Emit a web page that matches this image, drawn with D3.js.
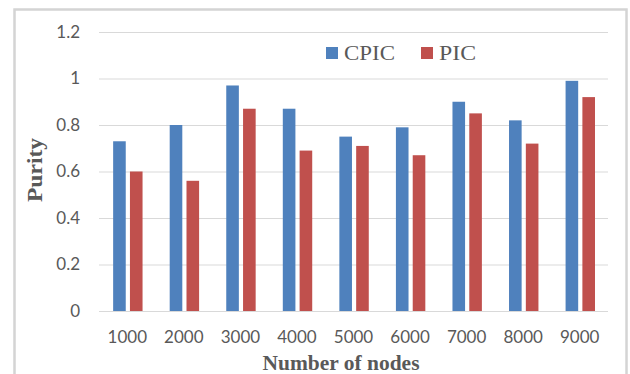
<!DOCTYPE html>
<html>
<head>
<meta charset="utf-8">
<script src="https://cdn.jsdelivr.net/npm/d3@7"></script>
<style>
  body { margin: 0; background: #fff; }
  svg { display: block; }
</style>
</head>
<body>
<div class="chart"></div>
<script>
// data
const nodes = ["1000", "2000", "3000", "4000", "5000", "6000", "7000", "8000", "9000"];
const seriesNames = ["CPIC", "PIC"];
const cpic = [0.73, 0.80, 0.97, 0.87, 0.75, 0.79, 0.90, 0.82, 0.99];
const pic  = [0.60, 0.56, 0.87, 0.69, 0.71, 0.67, 0.85, 0.72, 0.92];
const yTicks = [0, 0.2, 0.4, 0.6, 0.8, 1, 1.2];

const W = 630, H = 374;
const plot = { left: 99, right: 608, top: 32, bottom: 311 };
const color = d3.scaleOrdinal().domain(seriesNames).range(["#4F81BD", "#C0504D"]);

const svg = d3.select(".chart").append("svg")
    .attr("width", W)
    .attr("height", H);

// outer frame
svg.append("rect")
    .attr("x", 14.5).attr("y", 9.5)
    .attr("width", 612).attr("height", 380)
    .attr("fill", "none")
    .attr("stroke", "#D4D4D4")
    .attr("stroke-width", 2.5);

const x0 = d3.scaleBand().domain(nodes).range([plot.left, plot.right]);
const x1 = d3.scaleBand().domain(seriesNames)
    .range([x0.bandwidth() * 0.25, x0.bandwidth() * 0.77])
    .paddingInner(0.25);
const y = d3.scaleLinear().domain([0, 1.2]).range([plot.bottom, plot.top]);

// gridlines + y labels
const yAxis = d3.axisLeft(y)
    .tickValues(yTicks)
    .tickSize(-(plot.right - plot.left))
    .tickPadding(19)
    .tickFormat(d => d3.format("")(+d.toFixed(1)));

const gy = svg.append("g")
    .attr("transform", "translate(" + plot.left + ",0)")
    .call(yAxis);
gy.select(".domain").remove();
gy.selectAll(".tick line").attr("stroke", "#D9D9D9").attr("stroke-width", 1.2);
gy.selectAll(".tick text")
    .attr("fill", "#595959")
    .style("font-family", "Lato, 'Open Sans', sans-serif")
    .style("font-size", "17px");

// bars
const rows = nodes.map((n, i) => ({ n: n, vals: [
    { key: "CPIC", v: cpic[i] },
    { key: "PIC", v: pic[i] }
]}));

const grp = svg.selectAll(".grp")
    .data(rows)
    .enter().append("g")
    .attr("class", "grp")
    .attr("transform", d => "translate(" + x0(d.n) + ",0)");

grp.selectAll("rect")
    .data(d => d.vals)
    .enter().append("rect")
    .attr("x", d => x1(d.key))
    .attr("width", x1.bandwidth())
    .attr("y", d => y(d.v))
    .attr("height", d => y(0) - y(d.v))
    .attr("fill", d => color(d.key));

// x labels
const xAxis = d3.axisBottom(x0).tickSize(0).tickPadding(20);
const gx = svg.append("g")
    .attr("transform", "translate(0," + plot.bottom + ")")
    .call(xAxis);
gx.select(".domain").remove();
gx.selectAll(".tick text")
    .attr("fill", "#595959")
    .style("font-family", "Lato, 'Open Sans', sans-serif")
    .style("font-size", "17px");

// axis titles
svg.append("text")
    .attr("x", 341).attr("y", 370)
    .attr("text-anchor", "middle")
    .attr("fill", "#595959")
    .style("font-family", "'Liberation Serif', 'Times New Roman', serif")
    .style("font-weight", "bold")
    .style("font-size", "20px")
    .attr("textLength", 157)
    .attr("lengthAdjust", "spacingAndGlyphs")
    .text("Number of nodes");

svg.append("text")
    .attr("transform", "translate(42,170) rotate(-90)")
    .attr("text-anchor", "middle")
    .attr("fill", "#595959")
    .style("font-family", "'Liberation Serif', 'Times New Roman', serif")
    .style("font-weight", "bold")
    .style("font-size", "20px")
    .attr("textLength", 64)
    .attr("lengthAdjust", "spacingAndGlyphs")
    .text("Purity");

// legend
const legendX = [326, 421];
const legendW = [51, 37];
const legend = svg.selectAll(".legend")
    .data(seriesNames)
    .enter().append("g")
    .attr("class", "legend")
    .attr("transform", (d, i) => "translate(" + legendX[i] + ",47)");

legend.append("rect")
    .attr("width", 12).attr("height", 12)
    .attr("fill", d => color(d));

legend.append("text")
    .attr("x", 18).attr("y", 13)
    .attr("fill", "#595959")
    .style("font-family", "'Liberation Serif', 'Times New Roman', serif")
    .style("font-size", "20px")
    .attr("textLength", (d, i) => legendW[i])
    .attr("lengthAdjust", "spacingAndGlyphs")
    .text(d => d);
</script>
</body>
</html>
